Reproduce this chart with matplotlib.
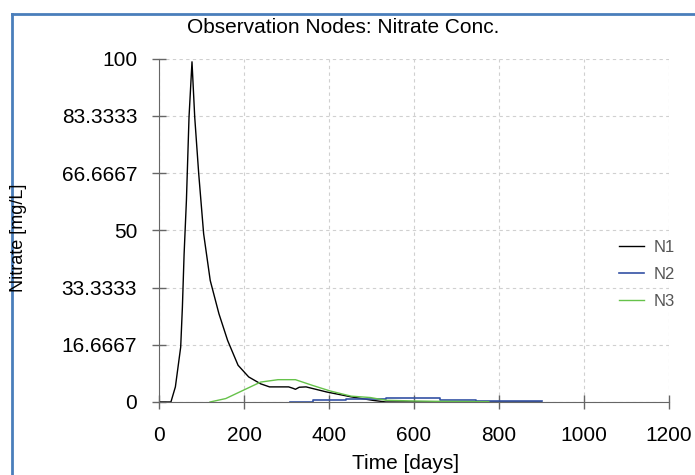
import matplotlib.pyplot as plt
from matplotlib.lines import Line2D
from matplotlib.ticker import FixedLocator

plt.rcParams['font.family'] = ['Liberation Sans', 'DejaVu Sans']

# N1 (black)
n1_days = [0, 28, 38.5, 51, 55, 59, 64.5, 70.6, 77.6, 84, 93.4, 105, 120.5, 141,
           161.5, 186, 211, 239, 260, 305, 315, 321, 330, 346, 395, 452, 502, 534, 900]
n1_vals = [0, 0, 4.4, 16, 27.6, 43, 58.8, 83, 99.1, 83, 66.5, 49, 35.4, 25.7,
           17.9, 10.7, 7.3, 5.3, 4.4, 4.4, 4.0, 3.7, 4.3, 4.4, 2.9, 1.5, 0.5, 0, 0]

# N2 (blue, stepped)
n2_days = [309, 362, 440, 534, 661, 747, 900]
n2_vals = [0.1, 0.5, 1.0, 1.2, 0.5, 0.2, 0.2]

# N3 (green)
n3_days = [120, 157, 198, 239, 280, 321, 362, 403, 452, 497, 534, 600, 650, 776]
n3_vals = [0, 1, 3.4, 5.8, 6.5, 6.5, 4.8, 3.2, 1.7, 1.3, 0.5, 0.3, 0.2, 0.1]

x_ticks = [0, 200, 400, 600, 800, 1000, 1200]
y_ticks = [0, 100/6, 200/6, 50, 400/6, 500/6, 100]

fig = plt.figure(figsize=(6.95, 4.75), dpi=100)
ax = fig.add_axes([0.2288, 0.1537, 0.7338, 0.7227])

ax.plot(n1_days, n1_vals, color='black', lw=1, label='N1')
ax.plot(n2_days, n2_vals, color='#3452a4', lw=1.2, drawstyle='steps-post', label='N2')
ax.plot(n3_days, n3_vals, color='#66c24a', lw=1, label='N3')

ax.set_xlim(0, 1200)
ax.set_ylim(0, 100)
ax.xaxis.set_major_locator(FixedLocator(x_ticks))
ax.yaxis.set_major_locator(FixedLocator(y_ticks))
ax.set_yticklabels(['%.6g' % v for v in y_ticks])

for s in ['top', 'right']:
    ax.spines[s].set_visible(False)
for s in ['left', 'bottom']:
    ax.spines[s].set_color('#666666')
ax.tick_params(direction='inout', length=9.5, width=1, color='#666666', labelsize=15)
ax.tick_params(axis='x', pad=12.5)
ax.tick_params(axis='y', pad=11)
ax.grid(True, linestyle=(0, (3, 3)), color='#d0d0d0', lw=0.8)
ax.set_axisbelow(True)

fig.text(0.494, 0.942, 'Observation Nodes: Nitrate Conc.', ha='center', va='center',
         fontsize=15)
fig.text(0.584, 0.025, 'Time [days]', ha='center', va='center', fontsize=15)
fig.text(0.026, 0.5, 'Nitrate [mg/L]', ha='center', va='center', rotation=90,
         fontsize=13)

leg = fig.legend(loc='center left', bbox_to_anchor=(0.869, 0.4225), frameon=False,
                 fontsize=12, handlelength=1.5, labelspacing=0.72, handletextpad=0.6)
for t in leg.get_texts():
    t.set_color('#555555')

# blue frame at top and left
fig.add_artist(Line2D([11.5 / 695, 1], [1 - 13.5 / 475] * 2, color='#4a7ebb', lw=2,
                      transform=fig.transFigure))
fig.add_artist(Line2D([11.5 / 695] * 2, [0, 1 - 13.5 / 475], color='#4a7ebb', lw=2,
                      transform=fig.transFigure))

fig.savefig('out.png', dpi=100)
